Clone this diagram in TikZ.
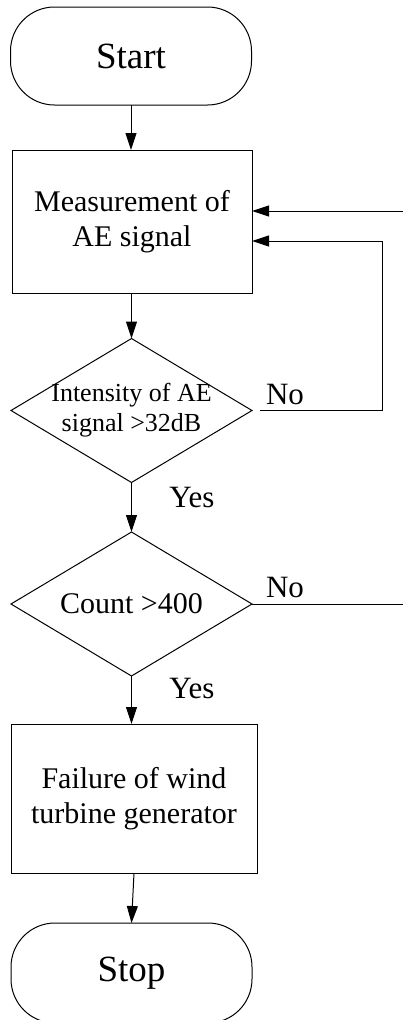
\documentclass[tikz,border=0pt]{standalone}
\usepackage{fontspec}
\setmainfont{Liberation Serif}
\usetikzlibrary{arrows.meta,shapes.geometric}
\begin{document}
\begin{tikzpicture}[x=1pt,y=-1pt,
  line width=1pt,
  every node/.style={inner sep=0pt, outer sep=0pt},
  term/.style={draw, rectangle, rounded corners=44pt, minimum width=241pt, minimum height=98pt,
    font=\fontsize{37}{42}\selectfont},
  procbox/.style={draw, rectangle, align=center, font=\fontsize{30}{35}\selectfont},
  decision/.style={draw, diamond, minimum width=241pt, minimum height=144pt},
  lbl/.style={font=\fontsize{31}{34}\selectfont},
  arr/.style={-{Triangle[length=17pt,width=11pt]}}
]
\useasboundingbox (0,0) rectangle (403,1020);

\node[term] (start) at (131,56) {Start};
\node[procbox, minimum width=240pt, minimum height=143pt] (meas) at (132,221.5) {Measurement of\\AE signal};
\node[decision, label={[align=center,font=\fontsize{26}{30}\selectfont]center:{Intensity of AE\\signal >32dB}}] (d1) at (131.5,410.5) {};
\node[decision, label={[font=\fontsize{30}{34}\selectfont]center:{Count >400}}] (d2) at (131.5,604) {};
\node[procbox, minimum width=246pt, minimum height=149pt] (fail) at (134,798.5) {Failure of wind\\turbine generator};
\node[term, minimum height=100pt] (stop) at (131.5,973) {Stop};

\node[lbl] (no1) at (285,394) {No};
\node[lbl] (no2) at (285,587) {No};
\node[lbl] (yes1) at (192,497) {Yes};
\node[lbl] (yes2) at (192,688) {Yes};

\coordinate (loopc) at (382,241);
\coordinate (in1) at (403,211);
\coordinate (out2) at (403,604);

\draw[arr] (start.south) -- (meas.north -| start.south);
\draw[arr] (meas.south -| d1.north) -- (d1.north);
\draw[arr] (d1.south) -- (d2.north);
\draw[arr] (d2.south) -- (fail.north -| d2.south);
\draw[arr] (fail.south) -- (stop.north);
\draw[arr] ([xshift=8pt]d1.east) -| (loopc) -- (meas.east |- loopc);
\draw[arr] (in1) -- (in1 -| meas.east);
\draw (d2.east) -- (out2);
\end{tikzpicture}
\end{document}
